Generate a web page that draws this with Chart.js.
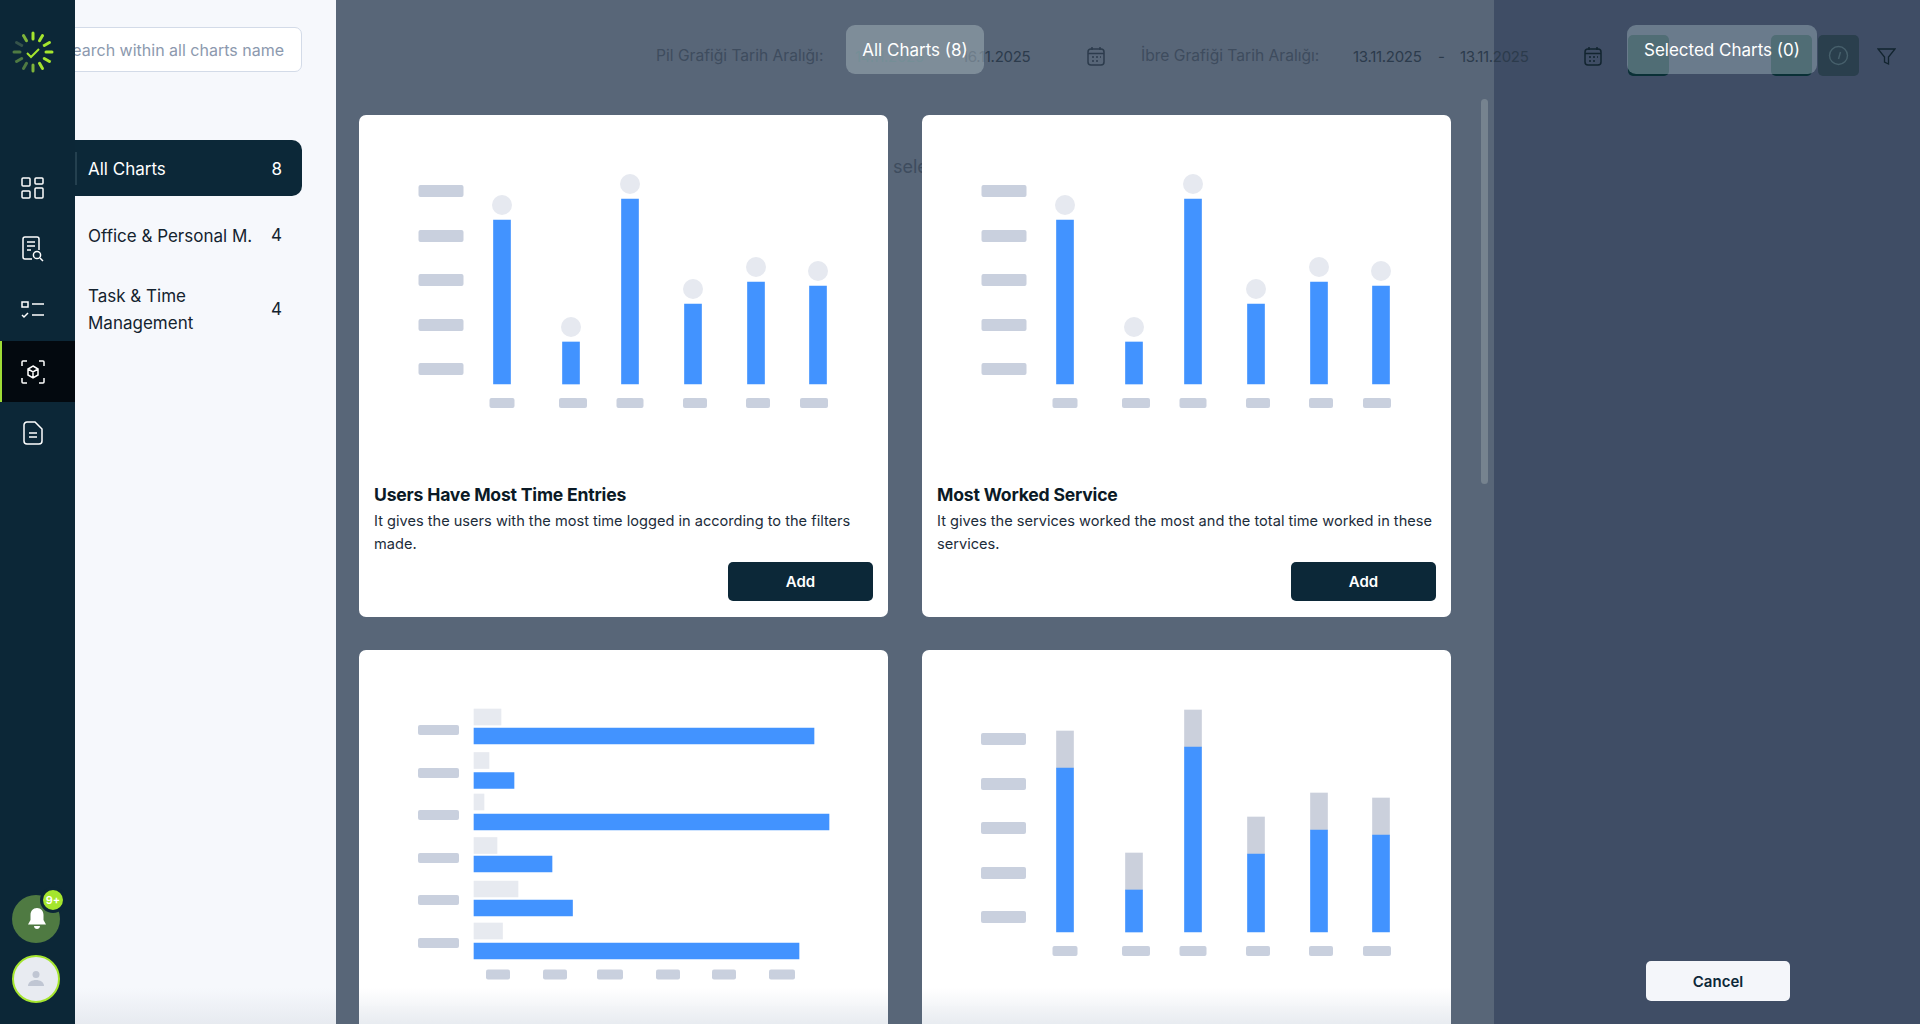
<!DOCTYPE html>
<html>
<head>
<meta charset="utf-8">
<title>All Charts</title>
<script src="https://cdn.jsdelivr.net/npm/chart.js@4"></script>
<style>
  html, body { margin: 0; padding: 0; width: 1920px; height: 1024px; overflow: hidden; background: #586678; font-family: Inter, sans-serif; }
  .abs { position: absolute; white-space: nowrap; }
  #nav { position: absolute; left: 0; top: 0; width: 75px; height: 1024px; background: #0c2737; z-index: 5; }
  #side { position: absolute; left: 75px; top: 0; width: 261px; height: 1024px; background: #f6f8fc; }
  #rightPanel { position: absolute; left: 1494px; top: 0; width: 426px; height: 1024px; background: #3f4d65; }
  .ghost { color: #3e4c5e; font-size: 15.6px; }
  .ghostDark { color: #2c3b4c; font-size: 15px; letter-spacing: -0.3px; }
  .card { position: absolute; width: 529px; background: #fff; border-radius: 7px; }
  .card canvas { position: absolute; left: 0; display: block; }
  .card h3 { position: absolute; left: 15px; top: 367px; margin: 0; font-size: 17.6px; line-height: 26px; font-weight: 700; color: #0b1a26; letter-spacing: -0.2px; }
  .card p { position: absolute; left: 15px; top: 395px; width: 505px; margin: 0; font-size: 14.6px; line-height: 23px; color: #1c2c3a; }
  .card .add { position: absolute; left: 369px; top: 447px; width: 145px; height: 39px; line-height: 39px; text-align: center; background: #0c2838; color: #fff; border-radius: 5px; font-size: 15px; font-weight: 600; }
  .glass { position: absolute; top: 25px; height: 49px; line-height: 50px; border-radius: 9px; color: #fff; font-size: 17px; text-align: center; z-index: 3; }
  .row { position: absolute; left: 88px; color: #14232f; font-size: 17px; line-height: 27px; }
  .count { position: absolute; right: 1638px; color: #14232f; font-size: 17px; }
  .fade { position: absolute; top: 988px; height: 36px; z-index: 2; background: linear-gradient(rgba(232,235,240,0), rgba(228,232,238,0.85)); }
</style>
</head>
<body>
<div id="side"></div>
<div class="abs" style="left:60px;top:27px;width:240px;height:43px;background:#fff;border:1.5px solid #d3dbe8;border-radius:7px"></div>
<div class="abs" style="right:1636px;top:38px;color:#8c99ae;font-size:16px;line-height:24px">Search within all charts name</div>
<div class="abs" style="left:60px;top:140px;width:242px;height:56px;background:#0c2838;border-radius:10px"></div>
<div class="abs" style="left:75px;top:152px;width:2px;height:33px;background:#24404f"></div>
<div class="abs" style="left:88px;top:156px;color:#fff;font-size:17px;line-height:27px">All Charts</div>
<div class="abs" style="right:1638px;top:156px;color:#fff;font-size:17px;line-height:27px">8</div>
<div class="row" style="top:223px">Office &amp; Personal M.</div>
<div class="count" style="top:225px">4</div>
<div class="row" style="top:283px">Task &amp; Time<br>Management</div>
<div class="count" style="top:299px">4</div>

<div class="abs ghost" style="left:656px;top:46px">Pil Grafiği Tarih Aralığı:</div>
<div class="abs ghostDark" style="left:855px;top:47px;color:#3f6a70">14.11.2025</div>
<div class="abs ghostDark" style="left:962px;top:47px">16.11.2025</div>
<div class="abs ghost" style="left:1141px;top:46px">İbre Grafiği Tarih Aralığı:</div>
<div class="abs" style="left:893px;top:156px;color:#3e4c5e;font-size:18px">sele</div>

<svg class="abs" style="left:1087px;top:46px" width="18" height="20" viewBox="0 0 18 20" fill="none" stroke="#2c3b4c" stroke-width="1.5"><rect x="1" y="3" width="16" height="16" rx="3"/><path d="M1 7.5h16M5 1v3M13 1v3M5 11h2M9 11h2M13 11h1M5 15h2M9 15h2"/></svg>

<div id="rightPanel"></div>
<div class="abs ghostDark" style="left:1353px;top:47px">13.11.2025</div>
<div class="abs ghostDark" style="left:1438px;top:47px">-</div>
<div class="abs ghostDark" style="left:1460px;top:47px">13.11.2025</div>
<svg class="abs" style="left:1584px;top:46px" width="18" height="20" viewBox="0 0 18 20" fill="none" stroke="#12242f" stroke-width="1.5"><rect x="1" y="3" width="16" height="16" rx="3"/><path d="M1 7.5h16M5 1v3M13 1v3M5 11h2M9 11h2M13 11h1M5 15h2M9 15h2"/></svg>
<div class="abs" style="left:1628px;top:35px;width:41px;height:41px;background:#0a3036;border-radius:5px"></div>
<div class="abs" style="left:1771px;top:35px;width:41px;height:41px;background:#0a3036;border-radius:5px"></div>
<div class="abs" style="left:1818px;top:35px;width:41px;height:41px;background:#2a3f4d;border-radius:5px"></div>
<svg class="abs" style="left:1828px;top:45px" width="21" height="21" viewBox="0 0 21 21" fill="none" stroke="#47606c" stroke-width="1.4"><circle cx="10.5" cy="10.5" r="9"/><path d="M10.5 14l2-7"/></svg>
<svg class="abs" style="left:1877px;top:47px" width="19" height="19" viewBox="0 0 19 19" fill="none" stroke="#12242f" stroke-width="1.3"><path d="M1 2h17l-6.5 8v7l-4-2v-5z"/></svg>

<div class="abs" style="left:1481px;top:99px;width:7px;height:385px;background:#76838f;border-radius:4px"></div>
<div class="abs" style="left:1646px;top:961px;width:144px;height:40px;line-height:41px;background:#f4f6fa;border-radius:5px;text-align:center;color:#0c2838;font-size:15px;font-weight:600">Cancel</div>

<div class="glass" style="left:846px;width:138px;background:rgba(150,165,175,.62)">All Charts (8)</div>
<div class="glass" style="left:1627px;width:190px;background:rgba(150,170,180,.5)">Selected Charts (0)</div>

<div class="card" style="left:359px;top:115px;height:502px">
  <canvas id="usersChart" style="top:0"></canvas>
  <h3>Users Have Most Time Entries</h3>
  <p>It gives the users with the most time logged in according to the filters made.</p>
  <div class="add">Add</div>
</div>
<div class="card" style="left:922px;top:115px;height:502px">
  <canvas id="serviceChart" style="top:0"></canvas>
  <h3>Most Worked Service</h3>
  <p>It gives the services worked the most and the total time worked in these services.</p>
  <div class="add">Add</div>
</div>
<div class="card" style="left:359px;top:650px;height:400px">
  <canvas id="rowsChart" style="top:0"></canvas>
</div>
<div class="card" style="left:922px;top:650px;height:400px">
  <canvas id="stackChart" style="top:0"></canvas>
</div>
<div class="fade" style="left:75px;width:261px"></div>
<div class="fade" style="left:359px;width:529px"></div>
<div class="fade" style="left:922px;width:529px"></div>

<div id="nav">
  <svg id="logo" class="abs" style="left:11px;top:30px" width="44" height="44" viewBox="0 0 44 44"></svg>
  <svg class="abs" style="left:21px;top:176px" width="24" height="24" viewBox="0 0 24 24" fill="none" stroke="#fff" stroke-width="1.5"><rect x="1" y="2" width="8" height="8" rx="1"/><rect x="14" y="2" width="8" height="6" rx="1"/><rect x="1" y="15" width="8" height="7" rx="1"/><rect x="14" y="12" width="8" height="10" rx="1"/></svg>
  <svg class="abs" style="left:21px;top:236px" width="24" height="26" viewBox="0 0 24 26" fill="none" stroke="#fff" stroke-width="1.5"><path d="M11 23H4a2 2 0 0 1-2-2V3a2 2 0 0 1 2-2h12a2 2 0 0 1 2 2v11M6 6h8M6 10h8M6 14h4"/><circle cx="16" cy="19" r="3.6"/><path d="M19 22l3 3"/></svg>
  <svg class="abs" style="left:21px;top:300px" width="24" height="20" viewBox="0 0 24 20" fill="none" stroke="#fff" stroke-width="1.5"><rect x="1" y="2" width="6" height="5"/><path d="M1 15l2 2 4-4M11 4h12M11 15h12"/></svg>
  <div class="abs" style="left:0;top:341px;width:75px;height:61px;background:#03090f"></div>
  <div class="abs" style="left:0;top:341px;width:1.5px;height:61px;background:#9fdc36"></div>
  <svg class="abs" style="left:21px;top:360px" width="24" height="24" viewBox="0 0 24 24" fill="none" stroke="#fff" stroke-width="1.5"><path d="M1 6V2a1 1 0 0 1 1-1h4M18 1h4a1 1 0 0 1 1 1v4M23 18v4a1 1 0 0 1-1 1h-4M6 23H2a1 1 0 0 1-1-1v-4M12 6l5 3v6l-5 3-5-3V9zM7 9l5 3 5-3M12 12v6"/></svg>
  <svg class="abs" style="left:23px;top:421px" width="20" height="24" viewBox="0 0 20 24" fill="none" stroke="#fff" stroke-width="1.5"><path d="M4 1h8l7 7v12a3 3 0 0 1-3 3H4a3 3 0 0 1-3-3V4a3 3 0 0 1 3-3zM6 12h8M6 16h8"/></svg>
  <div class="abs" style="left:12px;top:895px;width:48px;height:48px;border-radius:50%;background:#4f7a42"></div>
  <svg class="abs" style="left:26px;top:907px" width="22" height="24" viewBox="0 0 22 24" fill="#fff"><path d="M11 1c-4 0-6.500 3-6.500 7v5L2 17.500h18L17.500 13V8C17.500 4 15 1 11 1zM8 19h6c0 2-1.500 3-3 3s-3-1-3-3z"/></svg>
  <div class="abs" style="left:40px;top:887px;width:20px;height:20px;border-radius:50%;background:#a5e52e;border:3px solid #0c2737;color:#fff;font-size:11px;line-height:20px;text-align:center;font-weight:600">9+</div>
  <div class="abs" style="left:12px;top:955px;width:44px;height:44px;border-radius:50%;background:#e8ebf1;border:2.500px solid #a5e52e"></div>
  <svg class="abs" style="left:28px;top:970px" width="16" height="17" viewBox="0 0 16 17" fill="#c0c6d3"><circle cx="8" cy="4.500" r="3.500"/><path d="M0 16c0-4 4-6 8-6s8 2 8 6z"/></svg>
</div>

<script>
const columnSlots = [143, 212, 271, 334, 397, 459];
const usersValues = [164, 42, 185, 80, 102, 98];
const usersDots = [179, 57, 200, 95, 117, 113];
const columnYTicks = [15, 59, 104, 148, 193];
const columnXTicks = [143, 214, 271, 336, 399, 455];
const columnXTickWidths = [25, 28, 27, 24, 24, 28];

const stackBlue = [164, 42, 185, 78, 102, 97];
const stackGrey = [37, 37, 37, 37, 37, 37];

const rowBlueSlots = [86, 130.5, 172, 214, 258, 301];
const rowGreySlots = [67, 110.5, 152, 195.5, 239, 281];
const rowBlue = [340, 40, 355, 78, 98.5, 325];
const rowGrey = [27, 15, 10, 23, 44, 28.5];
const rowYTicks = [80, 123, 165, 208, 250, 293];
const rowXTicks = [24, 81, 136, 194, 250, 308];
const rowXTickWidths = [24, 24, 26, 24, 24, 26];

const BLUE = '#4293ff', DOT = '#e6e9f0', PILL = '#c9d0de', PALE = '#e7eaf0', STACK_GREY = '#cbd0dc';

// wireframe tick labels: grey pills placed through the chart scales
const tickPills = {
    id: 'tickPills',
    afterDraw(chart, args, opts) {
        const ctx = chart.ctx, xs = chart.scales.x, ys = chart.scales.y;
        ctx.save();
        ctx.fillStyle = PILL;
        opts.yTicks.forEach(v => {
            ctx.beginPath();
            ctx.roundRect(xs.getPixelForValue(opts.yAt) - opts.yWidth / 2, ys.getPixelForValue(v) - opts.yHeight / 2, opts.yWidth, opts.yHeight, 2);
            ctx.fill();
        });
        opts.xTicks.forEach((v, i) => {
            ctx.beginPath();
            ctx.roundRect(xs.getPixelForValue(v) - opts.xWidths[i] / 2, ys.getPixelForValue(opts.xAt) - 5, opts.xWidths[i], 10, 2);
            ctx.fill();
        });
        ctx.restore();
    }
};

function pairs(slots, values, horizontal) {
    return slots.map((s, i) => horizontal ? { x: values[i], y: s } : { x: s, y: values[i] });
}

function makeChart(id, height, datasets, extra) {
    const canvas = document.getElementById(id);
    canvas.width = 529;
    canvas.height = height;
    canvas.style.width = '529px';
    canvas.style.height = height + 'px';
    return new Chart(canvas, {
        type: 'bar',
        data: { datasets: datasets },
        plugins: [tickPills],
        options: {
            responsive: false,
            animation: false,
            indexAxis: extra.indexAxis || 'x',
            layout: { padding: 0, autoPadding: false },
            plugins: { legend: { display: false }, tooltip: { enabled: false }, tickPills: extra.pills },
            scales: {
                x: Object.assign({ type: 'linear', offset: false, display: false }, extra.x),
                y: Object.assign({ type: 'linear', offset: false, display: false }, extra.y)
            }
        }
    });
}

const columnPills = { yTicks: columnYTicks, yAt: 82, yWidth: 45, yHeight: 12, xTicks: columnXTicks, xWidths: columnXTickWidths, xAt: -19 };

function lollipop(id) {
    makeChart(id, 305, [
        { type: 'line', data: pairs(columnSlots, usersDots), showLine: false, pointRadius: 10, pointBackgroundColor: DOT, pointBorderWidth: 0 },
        { data: pairs(columnSlots, usersValues), backgroundColor: BLUE, barThickness: 17 }
    ], { x: { min: 0, max: 529 }, y: { min: -36, max: 269 }, pills: columnPills });
}
lollipop('usersChart');
lollipop('serviceChart');

makeChart('rowsChart', 338, [
    { data: pairs(rowGreySlots, rowGrey, true), backgroundColor: PALE, barThickness: 16, grouped: false },
    { data: pairs(rowBlueSlots, rowBlue, true), backgroundColor: BLUE, barThickness: 16, grouped: false }
], {
    indexAxis: 'y',
    x: { min: -115, max: 414 },
    y: { min: 0, max: 338, reverse: true },
    pills: { yTicks: rowYTicks, yAt: -35.5, yWidth: 41, yHeight: 10, xTicks: rowXTicks, xWidths: rowXTickWidths, xAt: 324.5 }
});

makeChart('stackChart', 340, [
    { data: pairs(columnSlots, stackBlue), backgroundColor: BLUE, barThickness: 17 },
    { data: pairs(columnSlots, stackGrey), backgroundColor: STACK_GREY, barThickness: 17 }
], {
    x: { min: 0, max: 529, stacked: true },
    y: { min: -58, max: 282, stacked: true },
    pills: { yTicks: columnYTicks, yAt: 81.5, yWidth: 45, yHeight: 12, xTicks: columnXTicks, xWidths: columnXTickWidths, xAt: -19 }
});

// logo ticks
let logo = '<path d="M16 23l4 4 8-8" fill="none" stroke="#a5e52e" stroke-width="2"/>';
const tickColors = ['#a5e52e', '#a5e52e', '#a5e52e', '#a5e52e', '#a5e52e', '#a5e52e', '#7fb43a', '#4f7a42', '#4f7a42', '#4f7a42', '#35534a', '#7fb43a', '#a5e52e'];
for (let i = 0; i < 12; i++) {
    logo += '<line x1="22" y1="3" x2="22" y2="9" stroke="' + tickColors[i] + '" stroke-width="3" stroke-linecap="round" transform="rotate(' + (i * 30) + ' 22 22)"/>';
}
document.getElementById('logo').innerHTML = logo;
</script>
</body>
</html>
